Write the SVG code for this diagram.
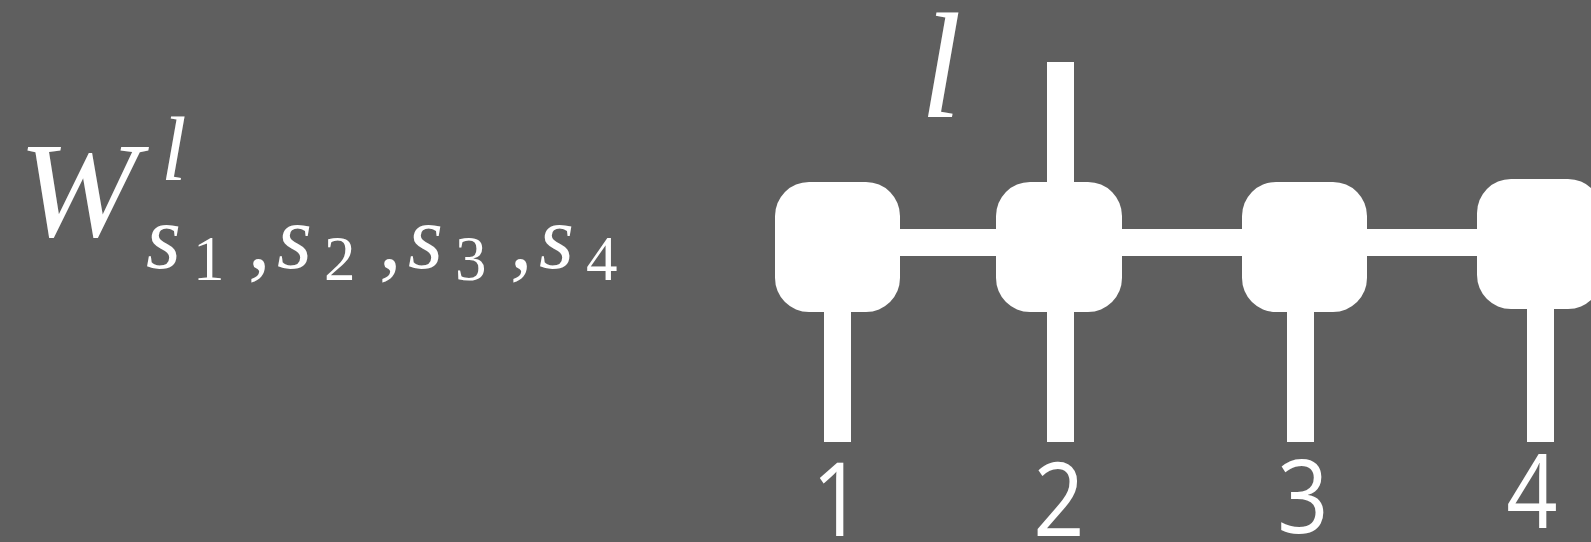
<svg xmlns="http://www.w3.org/2000/svg" width="1591" height="542" viewBox="0 0 1591 542">
<style>
.bg{fill:#5f5f5f}
.w{fill:#ffffff}
.mi{font-family:"Liberation Serif","Times New Roman",serif;font-style:italic;fill:#fff}
.mr{font-family:"Liberation Serif","Times New Roman",serif;fill:#fff}
.num{font-family:"Open Sans","Liberation Sans",sans-serif;font-size:102px;fill:#fff;text-anchor:middle}
</style>
<rect class="bg" x="0" y="0" width="1591" height="542"/>
<g id="formula">
<text class="mi" x="18" y="236" font-size="136" transform="translate(18 236) scale(1.06 1) translate(-18 -236)">W</text>
<text class="mi" x="161" y="180" font-size="92">l</text>
<text class="mi" x="146" y="268" font-size="90">s</text>
<text class="mr" x="193" y="280" font-size="63">1</text>
<text class="mr" x="248" y="268" font-size="90">,</text>
<text class="mi" x="277" y="268" font-size="90">s</text>
<text class="mr" x="324" y="280" font-size="63">2</text>
<text class="mr" x="379" y="268" font-size="90">,</text>
<text class="mi" x="408" y="268" font-size="90">s</text>
<text class="mr" x="455" y="280" font-size="63">3</text>
<text class="mr" x="510" y="268" font-size="90">,</text>
<text class="mi" x="539" y="268" font-size="90">s</text>
<text class="mr" x="586" y="280" font-size="63">4</text>
</g>
<g id="connectors">
<rect class="w" x="900" y="229" width="577" height="27"/>
<rect class="w" x="1047" y="62" width="27" height="122"/>
<rect class="w" x="824" y="310" width="27" height="132"/>
<rect class="w" x="1047" y="310" width="27" height="132"/>
<rect class="w" x="1287" y="310" width="27" height="132"/>
<rect class="w" x="1527" y="307" width="27" height="135"/>
</g>
<g id="node1"><rect class="w" x="775" y="182" width="125" height="130" rx="34" ry="34"/></g>
<g id="node2"><rect class="w" x="996" y="182" width="126" height="130" rx="34" ry="34"/></g>
<g id="node3"><rect class="w" x="1242" y="182" width="125" height="130" rx="34" ry="34"/></g>
<g id="node4"><rect class="w" x="1477" y="179" width="125" height="130" rx="34" ry="34"/></g>
<g id="label-l"><text class="mi" x="920" y="117" font-size="150">l</text></g>
<g id="labels">
<text class="num" transform="translate(837.5 536) scale(0.88 1)">1</text>
<text class="num" transform="translate(1059 536) scale(0.88 1)">2</text>
<text class="num" transform="translate(1303 533) scale(0.88 1)">3</text>
<text class="num" transform="translate(1532 528) scale(0.88 1)">4</text>
</g>
</svg>
